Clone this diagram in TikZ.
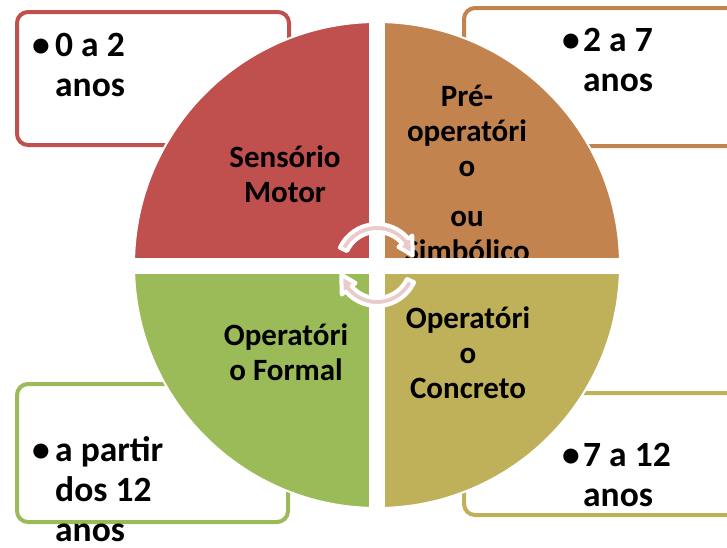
\documentclass[tikz,border=0pt]{standalone}
\usepackage{fontspec}
\setmainfont{Carlito}
\definecolor{cred}{HTML}{C0504D}
\definecolor{corange}{HTML}{C2834F}
\definecolor{cgreen}{HTML}{9BBB59}
\definecolor{colive}{HTML}{BFB15A}
\definecolor{cpink}{HTML}{EBCACA}
\tikzset{
  agebox/.style={draw=#1, line width=4pt, fill=white, rounded corners=11pt},
  boxtxt/.style={font=\fontsize{35.5}{40}\selectfont\bfseries, anchor=base west, inner sep=0pt, text=black},
  quadtxt/.style={font=\fontsize{31}{35}\selectfont\bfseries, anchor=base, inner sep=0pt, text=black},
  slice/.style={fill=#1, draw=white, line width=2pt},
  cyclearrow/.style={fill=cpink, draw=white, line width=4pt, line join=round},
  gap/.style={draw=white, line width=16pt}
}
\begin{document}
\begin{tikzpicture}[x=1pt,y=-1pt]
\useasboundingbox (0,0) rectangle (727,547);
\clip (0,0) rectangle (727,547);
% age boxes
\draw[agebox=cred] (17,12) rectangle (289,145);
\draw[agebox=corange] (464,8) rectangle (780,146);
\draw[agebox=cgreen] (17,384) rectangle (288,522);
\draw[agebox=colive] (464,393) rectangle (780,515);
% circle quadrants
\begin{scope}[shift={(377,265)}, x=1pt, y=1pt]
  \path[slice=corange] (0,0) -- (0:243) arc[start angle=0, end angle=90, radius=243] -- cycle;
  \path[slice=cred] (0,0) -- (90:243) arc[start angle=90, end angle=180, radius=243] -- cycle;
  \path[slice=cgreen] (0,0) -- (180:243) arc[start angle=180, end angle=270, radius=243] -- cycle;
  \path[slice=colive] (0,0) -- (270:243) arc[start angle=270, end angle=360, radius=243] -- cycle;
\end{scope}
% box texts
\node[boxtxt] (b1) at (32,56.7) {•};
\node[boxtxt] (t1a) at (55,56.7) {0 a 2};
\node[boxtxt] (t1b) at (55,96.7) {anos};
\node[boxtxt] (b2) at (562,51.7) {•};
\node[boxtxt] (t2a) at (583,51.7) {2 a 7};
\node[boxtxt] (t2b) at (583,91.7) {anos};
\node[boxtxt] (b3) at (32,461.7) {•};
\node[boxtxt] (t3a) at (55,461.7) {a partir};
\node[boxtxt] (t3b) at (55,501.7) {dos 12};
\node[boxtxt] (t3c) at (55,541.7) {anos};
\node[boxtxt] (b4) at (562,466.7) {•};
\node[boxtxt] (t4a) at (583,466.7) {7 a 12};
\node[boxtxt] (t4b) at (583,506.7) {anos};
% quadrant texts
\node[quadtxt] (q1a) at (285,167) {Sensório};
\node[quadtxt] (q1b) at (285,202) {Motor};
\node[quadtxt] (q2a) at (467,106.7) {Pré-};
\node[quadtxt] (q2b) at (467,141.7) {operatóri};
\node[quadtxt] (q2c) at (467,176.7) {o};
\node[quadtxt] (q2d) at (467,226.7) {ou};
\node[quadtxt] (q2e) at (467,261.7) {Simbólico};
\node[quadtxt] (q3a) at (286,345) {Operatóri};
\node[quadtxt] (q3b) at (286,380) {o Formal};
\node[quadtxt] (q4a) at (468,328) {Operatóri};
\node[quadtxt] (q4b) at (468,363) {o};
\node[quadtxt] (q4c) at (468,398) {Concreto};
% white gaps between quadrants
\draw[gap] (377,15) -- (377,515);
\draw[gap] (127,265.5) -- (627,265.5);
% cycle arrows
\begin{scope}[shift={(377,265)}, x=1pt, y=1pt]
  \path[cyclearrow] (155:41) arc[start angle=155, end angle=40, radius=41]
     -- (40:46) -- (15:37) -- (40:28) -- (40:33)
     arc[start angle=40, end angle=155, radius=33] -- cycle;
  \path[cyclearrow] (335:41) arc[start angle=335, end angle=220, radius=41]
     -- (220:46) -- (195:37) -- (220:28) -- (220:33)
     arc[start angle=220, end angle=335, radius=33] -- cycle;
\end{scope}
\end{tikzpicture}
\end{document}
